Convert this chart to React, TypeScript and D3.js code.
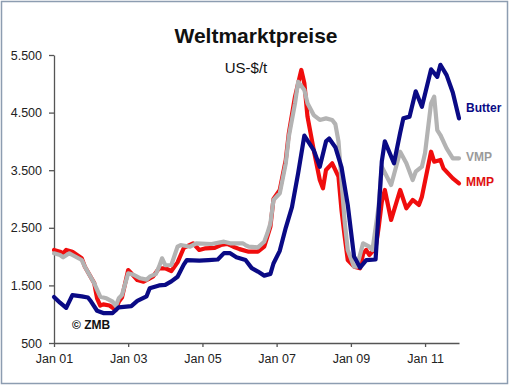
import { useEffect, useRef } from 'react';
import * as d3 from 'd3';

// Monthly world market prices, US-$/t
const butter: [string, number][] = [
  ['2001-01', 1300], ['2001-03', 1200], ['2001-05', 1110], ['2001-07', 1330], ['2001-10', 1310],
  ['2001-12', 1290], ['2002-01', 1220], ['2002-03', 1060], ['2002-05', 1020], ['2002-08', 1020],
  ['2002-10', 1120], ['2003-02', 1140], ['2003-04', 1230], ['2003-07', 1310], ['2003-08', 1450],
  ['2003-11', 1500], ['2004-01', 1510], ['2004-03', 1570], ['2004-05', 1650], ['2004-07', 1860],
  ['2004-08', 1940], ['2004-12', 1930], ['2005-03', 1940], ['2005-06', 1950], ['2005-08', 2060],
  ['2005-10', 2060], ['2005-12', 1990], ['2006-03', 1940], ['2006-05', 1800], ['2006-07', 1740],
  ['2006-09', 1670], ['2006-11', 1700], ['2006-12', 1880], ['2007-02', 2100], ['2007-04', 2500],
  ['2007-06', 2860], ['2007-08', 3450], ['2007-10', 4100], ['2008-01', 3850], ['2008-03', 3560],
  ['2008-05', 4000], ['2008-06', 4050], ['2008-08', 3900], ['2008-10', 3550], ['2008-12', 2900],
  ['2009-02', 2000], ['2009-04', 1810], ['2009-06', 1940], ['2009-09', 1950], ['2009-11', 3650],
  ['2009-12', 4000], ['2010-03', 3620], ['2010-05', 4150], ['2010-06', 4400], ['2010-08', 4430],
  ['2010-10', 4870], ['2010-12', 4600], ['2011-03', 5250], ['2011-05', 5120], ['2011-06', 5330],
  ['2011-08', 5150], ['2011-10', 4850], ['2011-12', 4400],
];

const mmp: [string, number][] = [
  ['2001-01', 2115], ['2001-03', 2085], ['2001-04', 2057], ['2001-05', 2115], ['2001-07', 2085],
  ['2001-10', 1970], ['2001-11', 1825], ['2002-02', 1540], ['2002-03', 1276], ['2002-04', 1150],
  ['2002-05', 1170], ['2002-07', 1150], ['2002-09', 1073], ['2002-10', 1217], ['2002-11', 1290],
  ['2003-01', 1767], ['2003-02', 1710], ['2003-04', 1594], ['2003-06', 1564], ['2003-08', 1623],
  ['2003-09', 1651], ['2003-11', 1797], ['2004-01', 1797], ['2004-03', 1750], ['2004-05', 1900],
  ['2004-07', 2150], ['2004-10', 2231], ['2004-12', 2115], ['2005-02', 2144], ['2005-05', 2150],
  ['2005-07', 2201], ['2005-09', 2220], ['2005-11', 2172], ['2006-01', 2130], ['2006-04', 2085],
  ['2006-07', 2085], ['2006-09', 2172], ['2006-11', 2520], ['2006-12', 3000], ['2007-02', 3156],
  ['2007-04', 3677], ['2007-05', 4140], ['2007-07', 4776], ['2007-09', 5240], ['2007-10', 5009],
  ['2007-11', 4429], ['2008-01', 3851], ['2008-03', 3330], ['2008-04', 3186], ['2008-05', 3503],
  ['2008-07', 3619], ['2008-09', 3387], ['2008-10', 2800], ['2008-11', 2350], ['2008-12', 1941],
  ['2009-02', 1825], ['2009-04', 1797], ['2009-05', 2050], ['2009-06', 2115], ['2009-07', 2028],
  ['2009-09', 2150], ['2009-10', 2500], ['2009-11', 2950], ['2009-12', 3156], ['2010-02', 2636],
  ['2010-05', 3156], ['2010-07', 2838], ['2010-09', 2983], ['2010-11', 2896], ['2010-12', 3040],
  ['2011-03', 3821], ['2011-04', 3648], ['2011-06', 3677], ['2011-07', 3532], ['2011-10', 3359],
  ['2011-12', 3272],
];

const vmp: [string, number][] = [
  ['2001-01', 2057], ['2001-03', 2028], ['2001-04', 1988], ['2001-06', 2057], ['2001-07', 2028],
  ['2001-10', 1941], ['2001-11', 1825], ['2002-02', 1536], ['2002-04', 1304], ['2002-06', 1276],
  ['2002-08', 1217], ['2002-09', 1140], ['2002-10', 1276], ['2002-11', 1333], ['2003-01', 1710],
  ['2003-03', 1680], ['2003-05', 1623], ['2003-07', 1600], ['2003-08', 1651], ['2003-10', 1700],
  ['2003-11', 1825], ['2003-12', 1970], ['2004-01', 1850], ['2004-03', 1854], ['2004-05', 2172],
  ['2004-06', 2201], ['2004-09', 2172], ['2004-11', 2231], ['2005-04', 2219], ['2005-08', 2259],
  ['2005-10', 2231], ['2006-02', 2231], ['2006-03', 2201], ['2006-04', 2172], ['2006-07', 2160],
  ['2006-09', 2259], ['2006-10', 2400], ['2006-11', 2578], ['2006-12', 2983], ['2007-02', 3099],
  ['2007-04', 3619], ['2007-05', 4082], ['2007-07', 4661], ['2007-08', 5036], ['2007-10', 4892],
  ['2007-11', 4661], ['2008-01', 4458], ['2008-03', 4372], ['2008-05', 4400], ['2008-07', 4372],
  ['2008-08', 4300], ['2008-09', 4000], ['2008-10', 3300], ['2008-11', 2600], ['2008-12', 2115],
  ['2009-02', 1825], ['2009-03', 1825], ['2009-05', 2231], ['2009-07', 2172], ['2009-08', 2115],
  ['2009-10', 2867], ['2009-11', 3561], ['2010-02', 3243], ['2010-05', 3821], ['2010-07', 3619],
  ['2010-09', 3330], ['2010-10', 3474], ['2010-12', 3561], ['2011-01', 3800], ['2011-03', 4661],
  ['2011-04', 4776], ['2011-05', 4197], ['2011-06', 4111], ['2011-08', 3880], ['2011-10', 3706],
  ['2011-12', 3706],
];

const yTicks = [500, 1500, 2500, 3500, 4500, 5500];
const xTickYears = ['2001-01', '2003-01', '2005-01', '2007-01', '2009-01', '2011-01'];

const FONT = 'Arial, "Liberation Sans", sans-serif';

export default function App() {
  const svgRef = useRef<SVGSVGElement>(null);

  useEffect(() => {
    const svg = d3.select(svgRef.current);
    svg.selectAll('*').remove();

    const W = 510, H = 386;
    const left = 54, right = 459, top = 55, bottom = 343;

    const parse = d3.timeParse('%Y-%m');
    const x = d3.scaleTime()
      .domain([parse('2001-01')!, parse('2011-12')!])
      .range([left, right]);
    const y = d3.scaleLinear().domain([500, 5500]).range([bottom, top]);

    const de = d3.formatLocale({ decimal: ',', thousands: '.', grouping: [3], currency: ['', ' €'] });
    const fmt = de.format(',');

    // background + frame
    svg.append('rect').attr('width', W).attr('height', H).attr('fill', 'white');
    svg.append('rect')
      .attr('x', 1.5).attr('y', 1.5).attr('width', W - 4).attr('height', H - 4)
      .attr('fill', 'none').attr('stroke', '#8d9db1').attr('stroke-width', 1.5);

    // title
    svg.append('text')
      .attr('x', 256).attr('y', 43)
      .attr('text-anchor', 'middle')
      .attr('font-family', FONT).attr('font-size', 21).attr('font-weight', 'bold')
      .attr('fill', '#111')
      .text('Weltmarktpreise');
    svg.append('text')
      .attr('x', 246).attr('y', 73)
      .attr('text-anchor', 'middle')
      .attr('font-family', FONT).attr('font-size', 15)
      .attr('fill', '#111')
      .text('US-$/t');

    // axes
    const yAxis = d3.axisLeft(y).tickValues(yTicks).tickFormat(d => fmt(d as number))
      .tickSize(5).tickSizeOuter(0).tickPadding(7);
    svg.append('g')
      .attr('transform', `translate(${left},0)`)
      .call(yAxis)
      .call(ax => ax.selectAll('path, line').attr('stroke', '#555').attr('stroke-width', 1.3))
      .call(ax => ax.selectAll('text').attr('font-family', FONT).attr('font-size', 12.5).attr('fill', '#222'));

    const xAxis = d3.axisBottom(x)
      .tickValues(xTickYears.map(s => parse(s)!))
      .tickFormat(d => d3.timeFormat('%b %y')(d as Date))
      .tickSize(4).tickSizeOuter(0).tickPadding(7);
    svg.append('g')
      .attr('transform', `translate(0,${bottom})`)
      .call(xAxis)
      .call(ax => ax.selectAll('path, line').attr('stroke', '#555').attr('stroke-width', 1.3))
      .call(ax => ax.selectAll('text').attr('font-family', FONT).attr('font-size', 12.5).attr('fill', '#222'));

    // series
    const line = d3.line<[string, number]>()
      .x(d => x(parse(d[0])!))
      .y(d => y(d[1]))
      .curve(d3.curveLinear);

    const series: { data: [string, number][]; color: string }[] = [
      { data: mmp, color: '#f00d0d' },
      { data: vmp, color: '#b3b3b3' },
      { data: butter, color: '#0a0a85' },
    ];
    series.forEach(s => {
      svg.append('path')
        .datum(s.data)
        .attr('d', line)
        .attr('fill', 'none')
        .attr('stroke', s.color)
        .attr('stroke-width', 4.2)
        .attr('stroke-linejoin', 'round')
        .attr('stroke-linecap', 'round');
    });

    // series labels
    const labels = [
      { text: 'Butter', y: 112, color: '#0a0a85' },
      { text: 'VMP', y: 161, color: '#9a9a9a' },
      { text: 'MMP', y: 186, color: '#e01010' },
    ];
    labels.forEach(l => {
      svg.append('text')
        .attr('x', 466).attr('y', l.y)
        .attr('font-family', FONT).attr('font-size', 12).attr('font-weight', 'bold')
        .attr('fill', l.color)
        .text(l.text);
    });

    svg.append('text')
      .attr('x', 72).attr('y', 329)
      .attr('font-family', FONT).attr('font-size', 12).attr('font-weight', 'bold')
      .attr('fill', '#111')
      .text('© ZMB');
  }, []);

  return (
    <svg
      ref={svgRef}
      width={510}
      height={386}
      style={{ position: 'absolute', left: 0, top: 0 }}
      role="img"
      aria-label="Weltmarktpreise Butter, VMP, MMP"
    />
  );
}
